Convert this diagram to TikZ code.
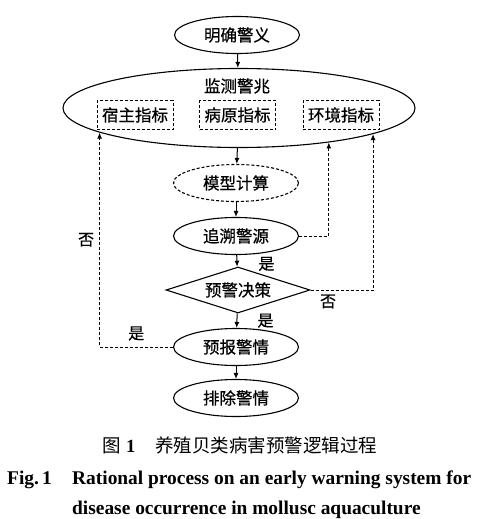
\documentclass[tikz,border=0pt]{standalone}
\usepackage{fontspec}
\setmainfont{Liberation Serif}
\newfontfamily\hei{Noto Sans CJK SC}[FakeBold=0.6]
\newfontfamily\song{Noto Sans CJK SC}
\usetikzlibrary{shapes.geometric,arrows.meta}

\begin{document}
\begin{tikzpicture}[x=1pt, y=-1pt,
  every node/.style={inner sep=0pt, font=\hei\fontsize{16.5}{18}\selectfont},
  oval/.style={draw, ellipse, line width=1.1pt, minimum width=125pt, minimum height=37pt},
  dashoval/.style={oval, dash pattern=on 3pt off 2pt},
  indbox/.style={draw, line width=1pt, dash pattern=on 3pt off 2pt, minimum width=76pt, minimum height=29pt},
  decide/.style={draw, diamond, aspect=3.1, line width=1.1pt, minimum width=144pt, minimum height=46pt},
  flow/.style={line width=1pt, -{Latex[length=6pt,width=5pt]}},
  back/.style={flow, dash pattern=on 3pt off 2pt},
  lab/.style={font=\hei\fontsize{16}{18}\selectfont}]
  \useasboundingbox (0,0) rectangle (482,519);
  % main column
  \node[oval] (mingque) at (237,35) {明确警义};
  \node[draw, ellipse, line width=1.1pt, minimum width=352pt, minimum height=79pt] (jiance) at (239,108) {};
  \node (jiancelab) at (237,86) {监测警兆};
  \node[indbox] (suzhu) at (135,115) {宿主指标};
  \node[indbox] (bingyuan) at (237.5,115) {病原指标};
  \node[indbox] (huanjing) at (341,115) {环境指标};
  \node[dashoval] (moxing) at (236,183) {模型计算};
  \node[oval] (zhuisu) at (236,236) {追溯警源};
  \node[decide] (juece) at (238,290) {预警决策};
  \node[oval] (yubao) at (236,347) {预报警情};
  \node[oval] (paichu) at (236,398) {排除警情};
  % arrows down
  \draw[flow] (mingque) -- (jiance);
  \draw[flow] (jiance) -- (moxing);
  \draw[flow] (moxing) -- (zhuisu);
  \draw[flow] (zhuisu) -- (juece) node[lab, midway, anchor=west, xshift=21pt, yshift=-3pt] {是};
  \draw[flow] (juece) -- (yubao) node[lab, midway, anchor=west, xshift=20pt] {是};
  \draw[flow] (yubao) -- (paichu);
  % feedback loops
  \draw[back] (yubao.west) -| (jiance.190)
    node[lab, pos=0.25, anchor=south, yshift=6pt] {是}
    node[lab, pos=0.75, anchor=east, xshift=-5pt] {否};
  \draw[back] (zhuisu.east) -| (jiance.339.3);
  \draw[back] (juece.east) -| (jiance.349.7)
    node[lab, pos=0.14, anchor=north, yshift=-4pt] {否};
  % caption
  \node[font=\song\fontsize{18.5}{20}\selectfont] (capcn) at (240,445)
    {图\hspace{5pt}{\rmfamily\bfseries 1}\hspace{20pt}养殖贝类病害预警逻辑过程};
  \node[font=\rmfamily\bfseries\fontsize{19.4}{22}\selectfont, anchor=base west] (figno) at (7,484) {Fig.\,1};
  \node[font=\rmfamily\bfseries\fontsize{19.4}{22}\selectfont, anchor=base west] (capen1) at (72,484)
    {Rational process on an early warning system for};
  \node[font=\rmfamily\bfseries\fontsize{19.4}{22}\selectfont, anchor=base west] (capen2) at (72,514)
    {disease occurrence in mollusc aquaculture};
\end{tikzpicture}
\end{document}
